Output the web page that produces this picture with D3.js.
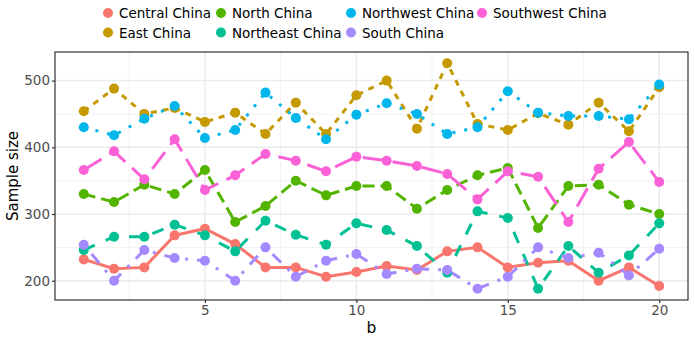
<!DOCTYPE html>
<html lang="en">
<head>
<meta charset="UTF-8">
<title>Sample size by region</title>
<script src="https://cdn.jsdelivr.net/npm/d3@7"></script>
<style>
  body { margin: 0; background: #fff; }
  svg text { font-family: "DejaVu Sans", sans-serif; }
</style>
</head>
<body>
<svg id="chart" width="695" height="340"></svg>
<script>
// --- data ---
const bValues = d3.range(1, 21);
const regions = ["Central China", "East China", "North China", "Northeast China",
                 "Northwest China", "South China", "Southwest China"];
const central   = [232, 218, 220, 268, 278, 255, 220, 220, 206, 213, 222, 216, 244, 250, 220, 227, 230, 200, 220, 192];
const east      = [454, 488, 450, 459, 438, 452, 420, 467, 420, 478, 500, 428, 526, 435, 426, 451, 434, 467, 424, 490];
const north     = [330, 318, 344, 330, 366, 288, 312, 350, 328, 342, 342, 308, 336, 358, 369, 279, 342, 344, 314, 300];
const northeast = [246, 266, 266, 284, 268, 244, 290, 269, 254, 286, 276, 252, 212, 304, 294, 188, 252, 212, 238, 286];
const northwest = [430, 418, 443, 462, 414, 426, 482, 444, 412, 449, 466, 450, 420, 430, 484, 452, 447, 447, 442, 494];
const south     = [254, 200, 246, 234, 230, 200, 250, 206, 230, 240, 210, 218, 216, 188, 206, 250, 234, 242, 208, 248];
const southwest = [366, 394, 352, 412, 336, 358, 390, 380, 364, 386, 380, 372, 360, 322, 364, 356, 288, 368, 408, 348];
const seriesValues = [central, east, north, northeast, northwest, south, southwest];
const xTicks = [5, 10, 15, 20];
const yTicks = [200, 300, 400, 500];

// ggplot-like styling
const colors = ["#F8766D", "#C49A00", "#53B400", "#00C094", "#00B6EB", "#A58AFF", "#FB61D7"];
const lw = 3;
const dashes = ["", "2,2", "4,2", "4,4", "1,3", "1,3,4,3", "7,3"]
  .map(s => s ? s.split(",").map(v => v * lw).join(",") : null);

const svg = d3.select("#chart");
const panel = { left: 55, right: 688, top: 52, bottom: 300 };

// ggplot adds 5% on each side of the data range
const allVals = seriesValues.flat();
const [yMin, yMax] = d3.extent(allVals);
const yPad = (yMax - yMin) * 0.05;
const xPad = (20 - 1) * 0.05;

const x = d3.scaleLinear().domain([1 - xPad, 20 + xPad]).range([panel.left, panel.right]);
const y = d3.scaleLinear().domain([yMin - yPad, yMax + yPad]).range([panel.bottom, panel.top]);

// grid
const grid = svg.append("g");
const xMinor = [2.5, 7.5, 12.5, 17.5];
const yMinor = [250, 350, 450];
grid.selectAll(".xminor").data(xMinor).join("line")
  .attr("x1", d => x(d)).attr("x2", d => x(d))
  .attr("y1", panel.top).attr("y2", panel.bottom)
  .attr("stroke", "#F2F2F2").attr("stroke-width", 1);
grid.selectAll(".yminor").data(yMinor).join("line")
  .attr("y1", d => y(d)).attr("y2", d => y(d))
  .attr("x1", panel.left).attr("x2", panel.right)
  .attr("stroke", "#F2F2F2").attr("stroke-width", 1);
grid.selectAll(".xmajor").data(xTicks).join("line")
  .attr("x1", d => x(d)).attr("x2", d => x(d))
  .attr("y1", panel.top).attr("y2", panel.bottom)
  .attr("stroke", "#EBEBEB").attr("stroke-width", 1.5);
grid.selectAll(".ymajor").data(yTicks).join("line")
  .attr("y1", d => y(d)).attr("y2", d => y(d))
  .attr("x1", panel.left).attr("x2", panel.right)
  .attr("stroke", "#EBEBEB").attr("stroke-width", 1.5);

// lines, then points
const line = d3.line().x((d, i) => x(bValues[i])).y(d => y(d));
svg.append("g").selectAll("path").data(seriesValues).join("path")
  .attr("d", line)
  .attr("fill", "none")
  .attr("stroke", (d, i) => colors[i])
  .attr("stroke-width", lw)
  .attr("stroke-dasharray", (d, i) => dashes[i]);

const pts = svg.append("g");
seriesValues.forEach((vals, i) => {
  pts.selectAll(null).data(vals).join("circle")
    .attr("cx", (d, j) => x(bValues[j]))
    .attr("cy", d => y(d))
    .attr("r", 5)
    .attr("fill", colors[i]);
});

// panel border
svg.append("rect")
  .attr("x", panel.left).attr("y", panel.top)
  .attr("width", panel.right - panel.left).attr("height", panel.bottom - panel.top)
  .attr("fill", "none").attr("stroke", "#333333").attr("stroke-width", 1.2);

// axes
const xAxis = svg.append("g").attr("transform", `translate(0,${panel.bottom})`)
  .call(d3.axisBottom(x).tickValues(xTicks).tickSize(3).tickPadding(2));
const yAxis = svg.append("g").attr("transform", `translate(${panel.left},0)`)
  .call(d3.axisLeft(y).tickValues(yTicks).tickSize(3).tickPadding(2));
[xAxis, yAxis].forEach(a => {
  a.select(".domain").remove();
  a.selectAll(".tick line").attr("stroke", "#333333").attr("stroke-width", 1.2);
  a.selectAll(".tick text").attr("fill", "#4D4D4D").style("font-size", "13.5px");
});

svg.append("text")
  .attr("x", (panel.left + panel.right) / 2).attr("y", 333)
  .attr("text-anchor", "middle").style("font-size", "15.5px").attr("fill", "#000")
  .text("b");
svg.append("text")
  .attr("transform", `translate(18,${(panel.top + panel.bottom) / 2}) rotate(-90)`)
  .attr("text-anchor", "middle").style("font-size", "15px").attr("fill", "#000")
  .text("Sample size");

// legend: 2 rows, filled by column
const legendCols = [108, 221, 351, 482];
const legendRows = [13, 32.5];
const legend = svg.append("g");
regions.forEach((name, i) => {
  const cx = legendCols[Math.floor(i / 2)];
  const cy = legendRows[i % 2];
  legend.append("circle").attr("cx", cx).attr("cy", cy).attr("r", 5).attr("fill", colors[i]);
  legend.append("text").attr("x", cx + 11).attr("y", cy)
    .attr("dominant-baseline", "central")
    .style("font-size", "13.5px").attr("fill", "#000")
    .text(name);
});
</script>
</body>
</html>
